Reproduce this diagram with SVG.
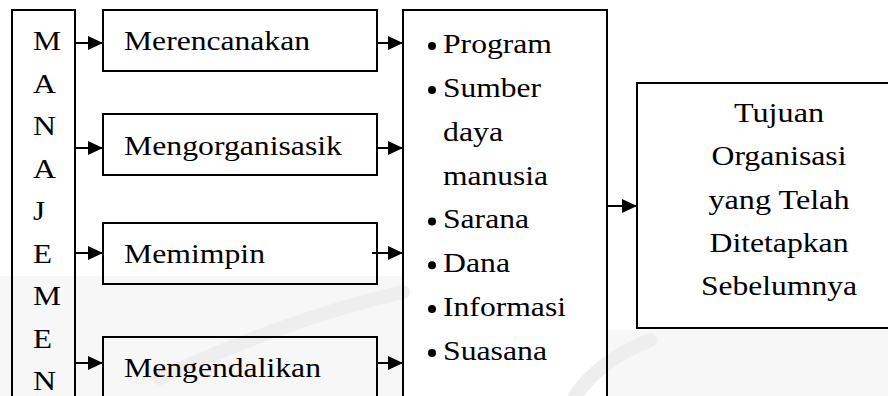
<svg xmlns="http://www.w3.org/2000/svg" width="888" height="396" viewBox="0 0 888 396">
<style>
.box{fill:none;stroke:#000;stroke-width:2}
.t{font-family:'Liberation Serif','Times New Roman',Tinos,Times,serif;font-size:28px;fill:#000}
.c{text-anchor:middle}
.ln{stroke:#000;stroke-width:2;fill:none;marker-end:url(#ah)}
.wm{fill:#f7f7f7}
.sw{fill:none;stroke:#eeeeee;stroke-width:14;stroke-linecap:round}
</style>
<defs>
<marker id="ah" viewBox="0 0 15 14" refX="15" refY="7" markerWidth="15" markerHeight="14" markerUnits="userSpaceOnUse" orient="auto">
<path d="M0,0 L15,7 L0,14 z" fill="#000"/>
</marker>
</defs>
<rect width="888" height="396" fill="#fff"/>
<g id="watermark">
<rect class="wm" x="0" y="276" width="403" height="120"/>
<rect class="wm" x="607" y="330" width="281" height="66"/>
<path class="sw" d="M160 378 Q290 318 403 292"/>
<path class="sw" d="M575 396 Q600 360 650 340"/>
</g>
<g id="manajemen">
<rect class="box" x="12" y="10" width="63" height="400"/>
<text class="t" x="33" y="50" textLength="28" lengthAdjust="spacingAndGlyphs">M</text>
<text class="t" x="33" y="92.5" textLength="23" lengthAdjust="spacingAndGlyphs">A</text>
<text class="t" x="33" y="135" textLength="23" lengthAdjust="spacingAndGlyphs">N</text>
<text class="t" x="33" y="177.5" textLength="23" lengthAdjust="spacingAndGlyphs">A</text>
<text class="t" x="33" y="220" textLength="12" lengthAdjust="spacingAndGlyphs">J</text>
<text class="t" x="33" y="262.5" textLength="19" lengthAdjust="spacingAndGlyphs">E</text>
<text class="t" x="33" y="305" textLength="28" lengthAdjust="spacingAndGlyphs">M</text>
<text class="t" x="33" y="347.5" textLength="19" lengthAdjust="spacingAndGlyphs">E</text>
<text class="t" x="33" y="390" textLength="23" lengthAdjust="spacingAndGlyphs">N</text>
</g>
<g id="merencanakan">
<rect class="box" x="103" y="10" width="274" height="61"/>
<text class="t" x="124" y="50" textLength="186" lengthAdjust="spacingAndGlyphs">Merencanakan</text>
</g>
<g id="mengorganisasik">
<rect class="box" x="103" y="114" width="274" height="61"/>
<text class="t" x="124" y="155" textLength="218" lengthAdjust="spacingAndGlyphs">Mengorganisasik</text>
</g>
<g id="memimpin">
<rect class="box" x="103" y="223" width="274" height="61"/>
<text class="t" x="124" y="263" textLength="141" lengthAdjust="spacingAndGlyphs">Memimpin</text>
</g>
<g id="mengendalikan">
<rect class="box" x="103" y="337" width="274" height="80"/>
<text class="t" x="124" y="377" textLength="197" lengthAdjust="spacingAndGlyphs">Mengendalikan</text>
</g>
<g id="sumberdaya">
<rect class="box" x="403" y="10" width="204" height="400"/>
<circle cx="432" cy="46" r="4"/>
<text class="t" x="443" y="53" textLength="109" lengthAdjust="spacingAndGlyphs">Program</text>
<circle cx="432" cy="90" r="4"/>
<text class="t" x="443" y="97" textLength="98" lengthAdjust="spacingAndGlyphs">Sumber</text>
<text class="t" x="443" y="140.7" textLength="60" lengthAdjust="spacingAndGlyphs">daya</text>
<text class="t" x="443" y="184.6" textLength="105" lengthAdjust="spacingAndGlyphs">manusia</text>
<circle cx="432" cy="221.4" r="4"/>
<text class="t" x="443" y="228.4" textLength="86" lengthAdjust="spacingAndGlyphs">Sarana</text>
<circle cx="432" cy="265.3" r="4"/>
<text class="t" x="443" y="272.3" textLength="67" lengthAdjust="spacingAndGlyphs">Dana</text>
<circle cx="432" cy="309.1" r="4"/>
<text class="t" x="443" y="316.1" textLength="123" lengthAdjust="spacingAndGlyphs">Informasi</text>
<circle cx="432" cy="353" r="4"/>
<text class="t" x="443" y="360" textLength="104" lengthAdjust="spacingAndGlyphs">Suasana</text>
</g>
<g id="tujuan">
<rect class="box" x="637" y="83" width="300" height="245"/>
<text class="t c" x="779" y="122" textLength="90" lengthAdjust="spacingAndGlyphs">Tujuan</text>
<text class="t c" x="779" y="165.3" textLength="135" lengthAdjust="spacingAndGlyphs">Organisasi</text>
<text class="t c" x="779" y="208.6" textLength="141" lengthAdjust="spacingAndGlyphs">yang Telah</text>
<text class="t c" x="779" y="251.9" textLength="139" lengthAdjust="spacingAndGlyphs">Ditetapkan</text>
<text class="t c" x="779" y="295.2" textLength="156" lengthAdjust="spacingAndGlyphs">Sebelumnya</text>
</g>
<g id="connectors">
<line class="ln" x1="75" y1="43" x2="103" y2="43"/>
<line class="ln" x1="75" y1="148" x2="103" y2="148"/>
<line class="ln" x1="75" y1="253" x2="103" y2="253"/>
<line class="ln" x1="75" y1="363" x2="103" y2="363"/>
<line class="ln" x1="377" y1="43" x2="403" y2="43"/>
<line class="ln" x1="377" y1="148" x2="403" y2="148"/>
<line class="ln" x1="372" y1="253" x2="403" y2="253"/>
<line class="ln" x1="377" y1="363" x2="403" y2="363"/>
<line class="ln" x1="607" y1="206" x2="637" y2="206"/>
</g>
</svg>
